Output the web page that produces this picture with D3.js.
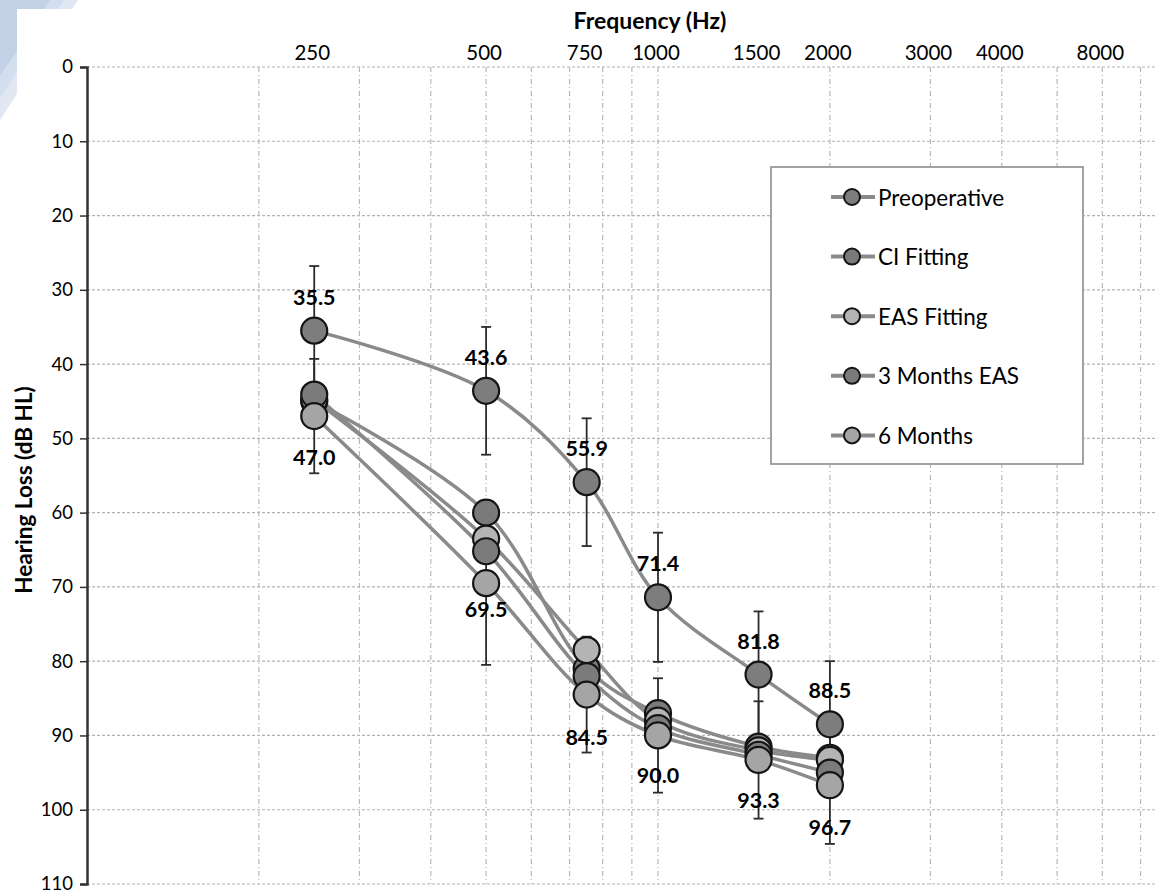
<!DOCTYPE html>
<html>
<head>
<meta charset="utf-8">
<script src="https://cdn.jsdelivr.net/npm/d3@7"></script>
<style>
  html, body { margin: 0; padding: 0; background: #ffffff; }
  svg { display: block; }
  text { font-family: Lato, "Open Sans", "DejaVu Sans", sans-serif; fill: #000; }
</style>
</head>
<body>
<svg id="chart" width="1155" height="893"></svg>
<script>
// ---------------- data ----------------
const frequencies = [250, 500, 750, 1000, 1500, 2000];
const seriesNames = ["Preoperative", "CI Fitting", "EAS Fitting", "3 Months EAS", "6 Months"];
const preoperative = [35.5, 43.6, 55.9, 71.4, 81.8, 88.5];
const ciFitting    = [45.0, 60.0, 81.0, 87.0, 91.5, 93.0];
const easFitting   = [44.8, 63.5, 78.5, 88.0, 92.0, 93.3];
const months3Eas   = [44.1, 65.2, 82.0, 89.0, 92.6, 95.0];
const months6      = [47.0, 69.5, 84.5, 90.0, 93.3, 96.7];
const preoperativeSD = [8.7, 8.6, 8.6, 8.7, 8.5, 8.5];
const months6SD      = [7.7, 11.0, 7.8, 7.7, 7.9, 7.9];
const xTickLabels = ["250", "500", "750", "1000", "1500", "2000", "3000", "4000", "8000"];
const xTickAt     = [250, 500, 750, 1000, 1500, 2000, 3000, 4000, 6000];
const yTicks = [0, 10, 20, 30, 40, 50, 60, 70, 80, 90, 100, 110];
const xGrid = [200, 300, 400, 500, 600, 700, 800, 900, 1000, 2000, 3000, 4000, 5000, 6000, 7000, 8000, 9000];

const seriesValues = [preoperative, ciFitting, easFitting, months3Eas, months6];
const seriesFill = ["#7d7d7d", "#7a7a7a", "#b4b4b4", "#7b7b7b", "#a5a5a5"];
// label offset (px) below the 6 Months points
const bottomLabelOffset = [41, 26, 42, 40, 40, 42];

// ---------------- layout ----------------
const W = 1155, H = 893;
const plotLeft = 87, plotTop = 67, plotBottom = 884;
const svg = d3.select("#chart");

const x = d3.scaleLog().domain([100, 10000]).range([plotLeft, 1229]);
const y = d3.scaleLinear().domain([0, 110]).range([plotTop, plotBottom]);

// slide background decoration (top-left corner)
const bg = svg.append("g");
bg.append("polygon").attr("points", "0,0 78,0 0,120").attr("fill", "#e1e8f3");
bg.append("polygon").attr("points", "0,0 64,0 0,98").attr("fill", "#d3deee");
bg.append("polygon").attr("points", "0,0 50,0 0,76").attr("fill", "#c3d1e7");
bg.append("rect").attr("x", 17).attr("y", 9).attr("width", W - 17).attr("height", H - 9).attr("fill", "#ffffff");

const defs = svg.append("defs");
defs.append("clipPath").attr("id", "plotclip")
  .append("rect").attr("x", plotLeft).attr("y", plotTop - 2).attr("width", W - plotLeft).attr("height", plotBottom - plotTop + 4);

const plot = svg.append("g").attr("clip-path", "url(#plotclip)");

// horizontal grid
plot.selectAll("line.hgrid").data(yTicks).join("line")
  .attr("class", "hgrid")
  .attr("x1", plotLeft).attr("x2", W)
  .attr("y1", d => y(d)).attr("y2", d => y(d))
  .attr("stroke", "#b3b3b3").attr("stroke-width", 1.2)
  .attr("stroke-dasharray", "3,2");

// vertical grid
plot.selectAll("line.vgrid").data(xGrid).join("line")
  .attr("class", "vgrid")
  .attr("x1", d => x(d)).attr("x2", d => x(d))
  .attr("y1", plotTop).attr("y2", plotBottom)
  .attr("stroke", "#b8b8b8").attr("stroke-width", 1.2)
  .attr("stroke-dasharray", "5,3,1,3");

// y axis
const yAxis = d3.axisLeft(y).tickValues(yTicks).tickSize(7).tickPadding(7);
const yg = svg.append("g").attr("transform", `translate(${plotLeft},0)`).call(yAxis);
yg.select(".domain").attr("stroke", "#333").attr("stroke-width", 2.5);
yg.selectAll(".tick line").attr("stroke", "#333").attr("stroke-width", 1.5);
yg.selectAll(".tick text").attr("font-size", 18.5).attr("font-family", "Lato, sans-serif").attr("fill", "#000");

// x tick labels (top)
svg.append("g").selectAll("text").data(xTickLabels).join("text")
  .attr("x", (d, i) => x(xTickAt[i]) - 2)
  .attr("y", 52)
  .attr("text-anchor", "middle")
  .attr("dominant-baseline", "central")
  .attr("font-size", 20.5)
  .text(d => d);

// axis titles
svg.append("text").attr("x", 650).attr("y", 20)
  .attr("text-anchor", "middle").attr("dominant-baseline", "central")
  .attr("font-size", 23).attr("font-weight", "bold")
  .text("Frequency (Hz)");
svg.append("text")
  .attr("transform", "translate(23,490) rotate(-90)")
  .attr("text-anchor", "middle").attr("dominant-baseline", "central")
  .attr("font-size", 22.5).attr("font-weight", "bold")
  .text("Hearing Loss (dB HL)");

// lines
const line = d3.line()
  .x((d, i) => x(frequencies[i]))
  .y(d => y(d))
  .curve(d3.curveCatmullRom.alpha(0.5));

const lineG = svg.append("g");
seriesValues.forEach((vals) => {
  lineG.append("path").attr("d", line(vals))
    .attr("fill", "none").attr("stroke", "#8a8a8a").attr("stroke-width", 3.5);
});

// error bars
const errG = svg.append("g");
function errorBars(vals, sds) {
  vals.forEach((v, i) => {
    const cx = x(frequencies[i]);
    const y1 = y(v - sds[i]), y2 = y(v + sds[i]);
    errG.append("line").attr("x1", cx).attr("x2", cx).attr("y1", y1).attr("y2", y2)
      .attr("stroke", "#2b2b2b").attr("stroke-width", 1.8);
    [y1, y2].forEach(yy => errG.append("line")
      .attr("x1", cx - 5).attr("x2", cx + 5).attr("y1", yy).attr("y2", yy)
      .attr("stroke", "#2b2b2b").attr("stroke-width", 1.8));
  });
}
errorBars(preoperative, preoperativeSD);
errorBars(months6, months6SD);

// markers
const markG = svg.append("g");
seriesValues.forEach((vals, s) => {
  markG.selectAll(null).data(vals).join("circle")
    .attr("cx", (d, i) => x(frequencies[i]))
    .attr("cy", d => y(d))
    .attr("r", 13)
    .attr("fill", seriesFill[s])
    .attr("stroke", "#151515").attr("stroke-width", 2.2);
});

// data labels
const labG = svg.append("g");
labG.selectAll("text.top").data(preoperative).join("text")
  .attr("x", (d, i) => x(frequencies[i]))
  .attr("y", d => y(d) - 34)
  .attr("text-anchor", "middle").attr("dominant-baseline", "central")
  .attr("font-size", 21.5).attr("font-weight", "bold")
  .text(d => d.toFixed(1));
labG.selectAll("text.bot").data(months6).join("text")
  .attr("x", (d, i) => x(frequencies[i]))
  .attr("y", (d, i) => y(d) + bottomLabelOffset[i])
  .attr("text-anchor", "middle").attr("dominant-baseline", "central")
  .attr("font-size", 21.5).attr("font-weight", "bold")
  .text(d => d.toFixed(1));

// legend
const lg = svg.append("g");
lg.append("rect").attr("x", 771).attr("y", 167).attr("width", 312).attr("height", 297)
  .attr("fill", "#ffffff").attr("stroke", "#9a9a9a").attr("stroke-width", 1.8);
seriesNames.forEach((name, i) => {
  const cy = 197 + i * 59.6;
  lg.append("line").attr("x1", 831).attr("x2", 875).attr("y1", cy).attr("y2", cy)
    .attr("stroke", "#8a8a8a").attr("stroke-width", 4);
  lg.append("circle").attr("cx", 852).attr("cy", cy).attr("r", 8)
    .attr("fill", seriesFill[i]).attr("stroke", "#151515").attr("stroke-width", 2);
  lg.append("text").attr("x", 878).attr("y", cy)
    .attr("dominant-baseline", "central").attr("font-size", 22.5)
    .text(name);
});
</script>
</body>
</html>
